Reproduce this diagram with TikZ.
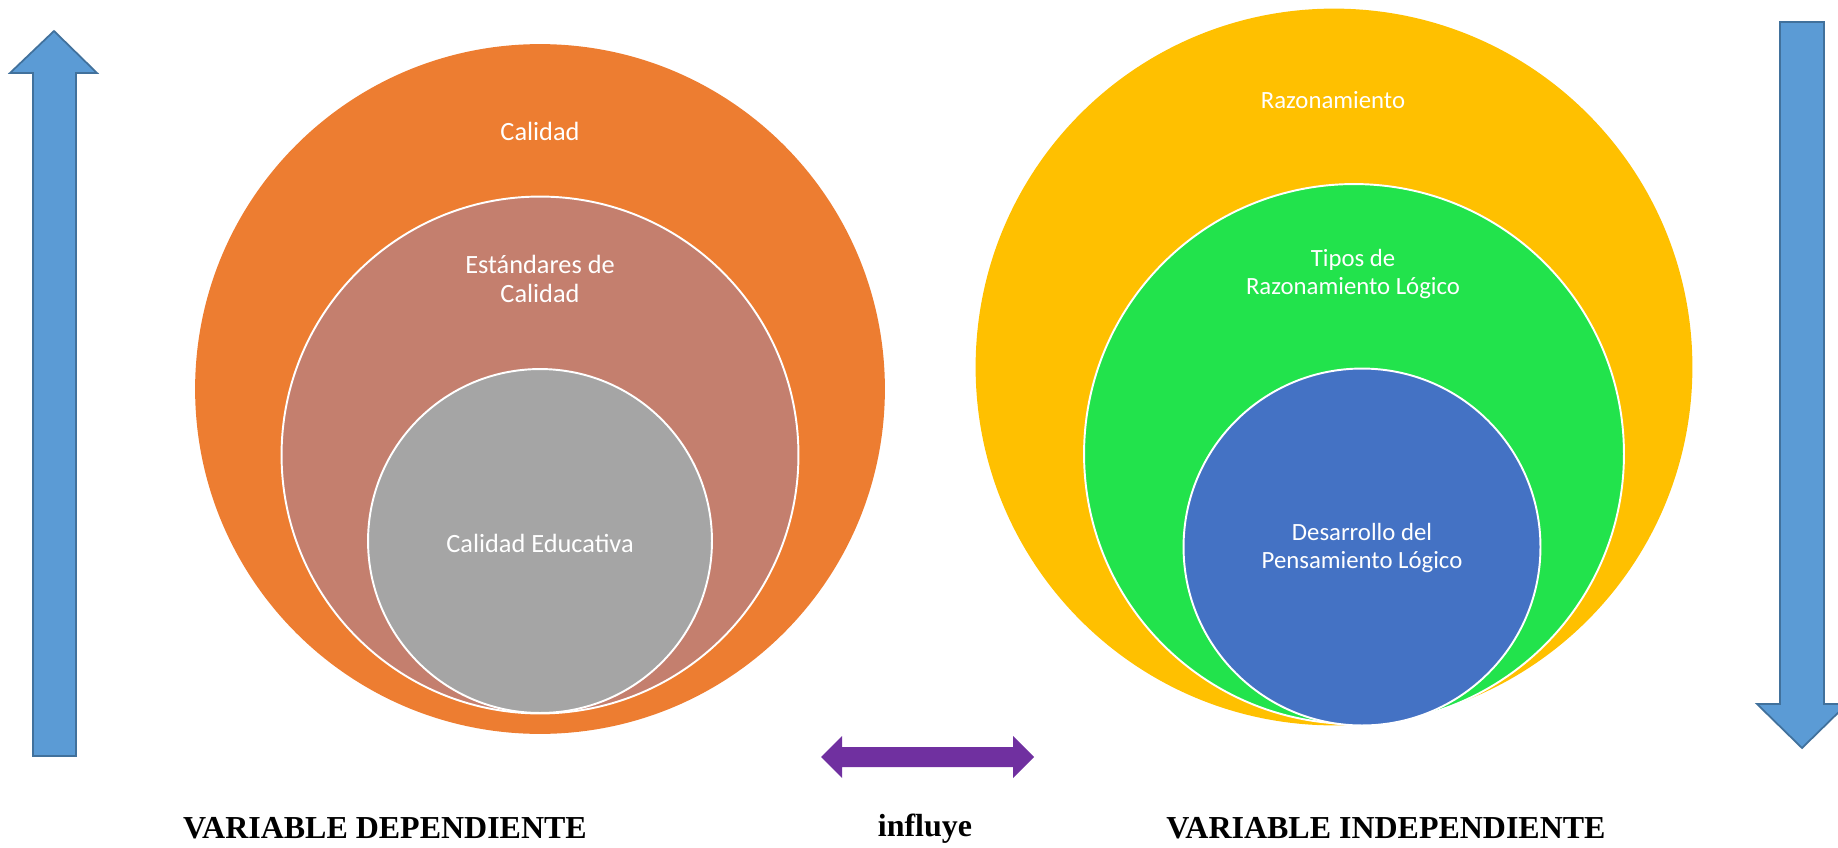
\documentclass[tikz,border=0pt]{standalone}
\usepackage{fontspec}
\setmainfont{Liberation Serif}
\newfontfamily\calibri{Carlito}
\definecolor{naranja}{HTML}{ED7D31}
\definecolor{rosa}{HTML}{C47F6E}
\definecolor{gris}{HTML}{A5A5A5}
\definecolor{amarillo}{HTML}{FFC000}
\definecolor{verde}{HTML}{22E34C}
\definecolor{azul}{HTML}{4472C4}
\definecolor{celeste}{HTML}{5B9BD5}
\definecolor{borde}{HTML}{41719C}
\definecolor{morado}{HTML}{7030A0}

\begin{document}
\begin{tikzpicture}[x=0.02cm, y=-0.02cm]
\tikzstyle{every node}=[align=center, inner sep=0pt]
\tikzstyle{disco}=[circle, draw=white, line width=1.1pt]
\tikzstyle{texto}=[text=white, font=\calibri\fontsize{15}{16.5}\selectfont]
\tikzstyle{textob}=[text=white, font=\calibri\fontsize{14.1}{16}\selectfont]
\tikzstyle{titulo}=[font=\bfseries\fontsize{18.2}{21}\selectfont]
\useasboundingbox (0,0) rectangle (1838,848);
% variable dependiente
\draw node[disco, fill=naranja, draw=naranja, minimum size=13.76cm] (c1) at (540,389) {};
\draw node[disco, fill=rosa, minimum size=10.34cm] (c2) at (540,455) {};
\draw node[disco, fill=gris, minimum size=6.88cm] (c3) at (540,541) {};
\node[texto] (t1) at (540,131) {Calidad};
\node[texto] (t2) at (540,279) {Estándares de\\Calidad};
\node[texto] (t3) at (540,543) {Calidad Educativa};
% variable independiente
\draw node[disco, fill=amarillo, draw=amarillo, minimum size=14.3cm] (c4) at (1334,367) {};
\draw node[disco, fill=verde, minimum size=10.8cm] (c5) at (1354,454) {};
\draw node[disco, fill=azul, minimum size=7.14cm] (c6) at (1362,547) {};
\node[textob] (t4) at (1333,100) {Razonamiento};
\node[textob] (t5) at (1353,274) {Tipos de\\Razonamiento Lógico};
\node[textob] (t6) at (1362,548) {Desarrollo del\\Pensamiento Lógico};
% flechas
\draw[fill=celeste, draw=borde, line width=1pt] (33,756) -- (33,73) -- (10,73) -- (54,31)
  -- (97,73) -- (76,73) -- (76,756) -- cycle;
\draw[fill=celeste, draw=borde, line width=1pt] (1780,22) -- (1780,704) -- (1757,704)
  -- (1802,748) -- (1847,704) -- (1824,704) -- (1824,22) -- cycle;
\fill[morado] (821,757) -- (842,736) -- (842,747) -- (1013,747) -- (1013,736) -- (1034,757)
  -- (1013,778) -- (1013,767) -- (842,767) -- (842,778) -- cycle;
% rotulos
\node[titulo] (dep) at (385,828) {VARIABLE DEPENDIENTE};
\node[titulo] (inf) at (925,829) {influye};
\node[titulo] (ind) at (1386,828) {VARIABLE INDEPENDIENTE};
\end{tikzpicture}
\end{document}
